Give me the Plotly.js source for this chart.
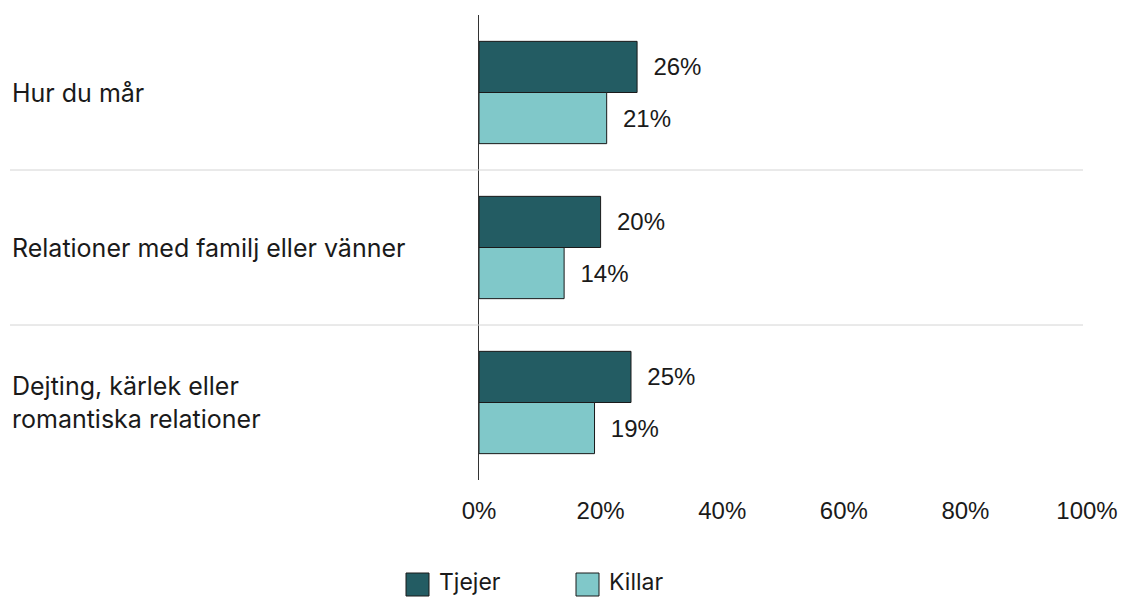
<!DOCTYPE html>
<html><head><meta charset="utf-8">
<script src="https://cdn.plot.ly/plotly-3.0.1.min.js"></script>
<style>html,body{margin:0;padding:0;background:#fff}#chart{width:1123px;height:598px}</style>
</head><body><div id="chart"></div>
<script>
const categories = ["Hur du mår", "Relationer med familj eller vänner", "Dejting, kärlek eller<br>romantiska relationer"];
const tjejer = [26, 20, 25];
const killar = [21, 14, 19];
const seriesNames = ["Tjejer", "Killar"];
const seriesColors = ["#235c63", "#80c8c9"];
const tickVals = [0, 20, 40, 60, 80, 100];
const tickText = ["0%", "20%", "40%", "60%", "80%", "100%"];

const W = 1123, H = 598;
const L = 479, R = 36, T = 15, B = 118;
const plotW = W - L - R, plotH = H - T - B;
const catFont = {family: "Inter, Liberation Sans, Arial, sans-serif", size: 25, color: "#1a1a1a"};
const numFont = {family: "Liberation Sans, Arial, sans-serif", size: 24, color: "#1a1a1a"};

const mk = (vals, i) => ({
  type: "bar", orientation: "h", name: seriesNames[i], x: vals, y: categories,
  marker: {color: seriesColors[i], line: {color: "#1a1a1a", width: 1}},
  text: vals.map(v => "\u00a0\u00a0" + v + "%"), textposition: "outside",
  textfont: numFont, cliponaxis: false, hoverinfo: "none", showlegend: false
});
const data = [mk(tjejer, 0), mk(killar, 1)];

const xLeft = -(L - 10) / plotW;
const annotations = categories.map(c => ({
  xref: "paper", yref: "y", x: xLeft, y: c, text: c, showarrow: false,
  xanchor: "left", align: "left", font: catFont
}));
const shapes = [0.5, 1.5].map(v => ({
  type: "line", xref: "paper", yref: "y", x0: xLeft, x1: (1083 - L) / plotW, y0: v, y1: v,
  line: {color: "#d4d4d4", width: 1}
}));

// custom legend (pixel -> paper conversions)
const px = x => (x - L) / plotW;
const py = y => (H - B - y) / plotH;
const legendX = [406, 576];
seriesNames.forEach((n, i) => {
  shapes.push({type: "rect", xref: "paper", yref: "paper",
    x0: px(legendX[i]), x1: px(legendX[i] + 23), y0: py(596), y1: py(573),
    fillcolor: seriesColors[i], line: {color: "#1a1a1a", width: 1}});
  annotations.push({xref: "paper", yref: "paper", x: px(legendX[i] + 31), y: py(582),
    xanchor: "left", yanchor: "middle", showarrow: false, text: n,
    font: {family: "Inter, Liberation Sans, Arial, sans-serif", size: 23, color: "#1a1a1a"}});
});

const layout = {
  width: W, height: H, margin: {l: L, r: R, t: T, b: B},
  paper_bgcolor: "#fff", plot_bgcolor: "#fff",
  barmode: "group", bargap: 0.34, bargroupgap: 0,
  font: catFont,
  xaxis: {range: [0, 100], tickvals: tickVals, ticktext: tickText, showgrid: false, zeroline: false,
          showline: false, ticks: "", ticklabelstandoff: 14, tickfont: numFont},
  yaxis: {autorange: "reversed", showticklabels: false, showgrid: false, zeroline: false,
          showline: true, linecolor: "#333", linewidth: 1, ticks: ""},
  showlegend: false,
  annotations: annotations, shapes: shapes
};
Plotly.newPlot("chart", data, layout, {displayModeBar: false, staticPlot: true});
</script></body></html>
